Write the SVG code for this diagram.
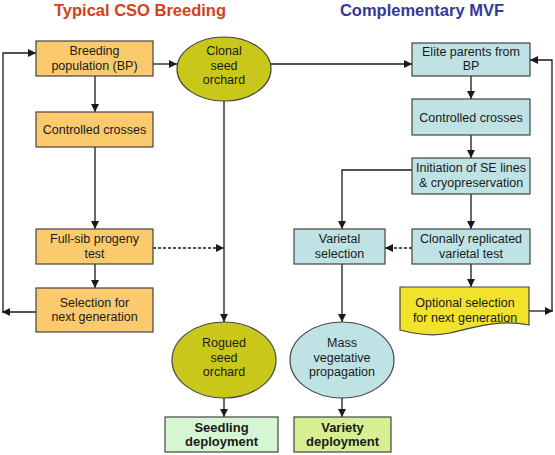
<svg xmlns="http://www.w3.org/2000/svg" width="555" height="455" viewBox="0 0 555 455">
<defs>
<marker id="ah" viewBox="0 0 10 10" refX="10" refY="5" markerWidth="8" markerHeight="8" markerUnits="userSpaceOnUse" orient="auto">
<path d="M0,0 L10,5 L0,10 Z" fill="#1a1a1a"/>
</marker>
<style>
.t{font-family:"Liberation Sans",Arial,sans-serif;font-size:12.5px;fill:#1a1a1a;text-anchor:middle}
.b{font-weight:bold;font-size:13px}
.h{font-family:"Liberation Sans",Arial,sans-serif;font-size:16.5px;font-weight:bold;text-anchor:middle}
.or{fill:#fbca6c;stroke:#444;stroke-width:1.2}
.bl{fill:#bfe2e5;stroke:#444;stroke-width:1.2}
.ol{fill:#c9c81a;stroke:#444;stroke-width:1.2}
.ye{fill:#f1e22c;stroke:#444;stroke-width:1.2}
.pg{fill:#d6f6d3;stroke:#444;stroke-width:1.2}
.lg{fill:#d5ef92;stroke:#444;stroke-width:1.2}
.c{fill:none;stroke:#1a1a1a;stroke-width:1.3}
.d{stroke-dasharray:3,2}
</style>
</defs>
<rect width="555" height="455" fill="#fff"/>
<text class="h" x="140" y="16" fill="#d2401c">Typical CSO Breeding</text>
<text class="h" x="422" y="16" fill="#33399a">Complementary MVF</text>

<g id="connectors">
<path class="c" d="M153,64 H177" marker-end="url(#ah)"/>
<path class="c" d="M271,64 H412" marker-end="url(#ah)"/>
<path class="c" d="M95,76 V112" marker-end="url(#ah)"/>
<path class="c" d="M95,147 V229" marker-end="url(#ah)"/>
<path class="c" d="M95,264 V288" marker-end="url(#ah)"/>
<path class="c d" d="M153,248 H224" marker-end="url(#ah)"/>
<path class="c" d="M224,101 V322" marker-end="url(#ah)"/>
<path class="c" d="M224,398 V417" marker-end="url(#ah)"/>
<path class="c" d="M36,312 H2" marker-end="url(#ah)"/>
<path class="c" d="M3,312 V53 H36" marker-end="url(#ah)"/>
<path class="c" d="M471,76 V99" marker-end="url(#ah)"/>
<path class="c" d="M471,135 V158" marker-end="url(#ah)"/>
<path class="c" d="M471,194 V229" marker-end="url(#ah)"/>
<path class="c" d="M471,264 V287" marker-end="url(#ah)"/>
<path class="c" d="M412,170 H342 V229" marker-end="url(#ah)"/>
<path class="c d" d="M412,248 H385" marker-end="url(#ah)"/>
<path class="c" d="M342,264 V322" marker-end="url(#ah)"/>
<path class="c" d="M342,398 V417" marker-end="url(#ah)"/>
<path class="c" d="M529,311 H553" marker-end="url(#ah)"/>
<path class="c" d="M552,311 V60 H530" marker-end="url(#ah)"/>
</g>

<g id="bp"><rect class="or" x="36" y="41" width="117" height="35"/>
<text class="t" x="94.5" y="55">Breeding</text><text class="t" x="94.5" y="70">population (BP)</text></g>
<g id="cc-left"><rect class="or" x="36" y="112" width="117" height="35"/>
<text class="t" x="94.5" y="134">Controlled crosses</text></g>
<g id="fullsib"><rect class="or" x="36" y="229" width="117" height="35"/>
<text class="t" x="94.5" y="243">Full-sib progeny</text><text class="t" x="94.5" y="258">test</text></g>
<g id="selection"><rect class="or" x="36" y="288" width="117" height="44"/>
<text class="t" x="94.5" y="307">Selection for</text><text class="t" x="94.5" y="321">next generation</text></g>

<g id="cso"><ellipse class="ol" cx="224" cy="69" rx="47" ry="32"/>
<text class="t" x="224" y="55">Clonal</text><text class="t" x="224" y="69.5">seed</text><text class="t" x="224" y="84">orchard</text></g>
<g id="rogued"><ellipse class="ol" cx="224" cy="360" rx="52" ry="38"/>
<text class="t" x="224" y="347">Rogued</text><text class="t" x="224" y="362">seed</text><text class="t" x="224" y="376">orchard</text></g>
<g id="seedling"><rect class="pg" x="165" y="417" width="113" height="35"/>
<text class="t b" x="221.5" y="432">Seedling</text><text class="t b" x="221.5" y="446">deployment</text></g>

<g id="elite"><rect class="bl" x="412" y="43" width="118" height="33"/>
<text class="t" x="471" y="56">Elite parents from</text><text class="t" x="471" y="70">BP</text></g>
<g id="cc-right"><rect class="bl" x="412" y="99" width="118" height="36"/>
<text class="t" x="471" y="121.5">Controlled crosses</text></g>
<g id="initiation"><rect class="bl" x="412" y="158" width="118" height="36"/>
<text class="t" x="471" y="172">Initiation of SE lines</text><text class="t" x="471" y="187">&amp; cryopreservation</text></g>
<g id="clonal-test"><rect class="bl" x="412" y="229" width="118" height="35"/>
<text class="t" x="471" y="243">Clonally replicated</text><text class="t" x="471" y="258">varietal test</text></g>
<g id="varietal"><rect class="bl" x="294" y="229" width="91" height="35"/>
<text class="t" x="339.5" y="243">Varietal</text><text class="t" x="339.5" y="258">selection</text></g>
<g id="optional"><path class="ye" d="M400,287 H529 V325 C500,319 475,327 450,333 C432,337 415,334 400,330 Z"/>
<text class="t" x="465" y="307">Optional selection</text><text class="t" x="465" y="322">for next generation</text></g>
<g id="mass"><ellipse class="bl" cx="342" cy="360" rx="52" ry="38"/>
<text class="t" x="342" y="347">Mass</text><text class="t" x="342" y="362">vegetative</text><text class="t" x="342" y="376">propagation</text></g>
<g id="variety"><rect class="lg" x="294" y="417" width="97" height="35"/>
<text class="t b" x="342.5" y="432">Variety</text><text class="t b" x="342.5" y="446">deployment</text></g>
</svg>
